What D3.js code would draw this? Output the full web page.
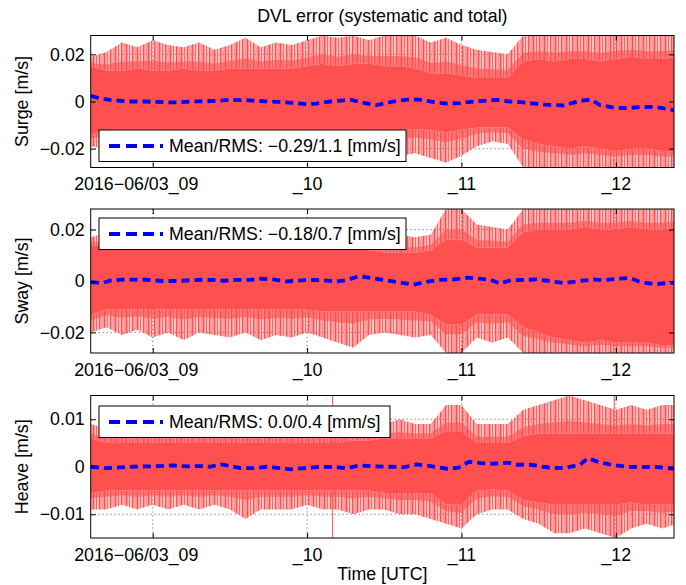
<!DOCTYPE html>
<html>
<head>
<meta charset="utf-8">
<script src="https://cdn.jsdelivr.net/npm/d3@7"></script>
<style>
body { margin: 0; background: #fff; }
text { font-family: "Liberation Sans", Arial, sans-serif; fill: #000; }
</style>
</head>
<body>
<svg id="chart" width="686" height="585"></svg>
<script>
// time axis (hours UTC, 2016-06-03)
const timeRange = [8.598, 12.377];
const tickHours = [9, 10, 11, 12];
const tickLabels = ["2016\u221206/03_09", "_10", "_11", "_12"];

// envelope of the noisy error signal, read every 0.1 h (mm/s)
const hours = [8.6, 8.7, 8.8, 8.9, 9.0, 9.1, 9.2, 9.3, 9.4, 9.5, 9.6, 9.7, 9.8, 9.9, 10.0, 10.1, 10.2, 10.3, 10.4, 10.5,
  10.6, 10.7, 10.8, 10.9, 11.0, 11.1, 11.2, 11.3, 11.4, 11.5, 11.6, 11.7, 11.8, 11.9, 12.0, 12.1, 12.2, 12.3, 12.4];

const surgePeakHi = [19, 21, 25, 23, 26, 24, 23, 25, 22, 24, 27, 23, 25, 24, 26, 28, 27, 28, 26, 28,
  28, 28, 25, 27, 24, 22, 21, 20, 28, 28, 28, 28, 28, 28, 28, 28, 28, 28, 28];
const surgeCoreHi = [15, 13, 13, 14, 13, 13, 14, 13, 13, 14, 14, 14, 14, 14, 15, 16, 15, 16, 16, 15,
  15, 14, 12, 12, 11, 10, 10, 10, 17, 18, 17, 18, 18, 17, 18, 19, 18, 18, 19];
const surgeCoreLo = [-14, -12, -12, -12, -12, -12, -12, -12, -12, -12, -12, -12, -12, -12, -12, -12, -12, -12, -12, -12,
  -12, -12, -12, -13, -12, -11, -11, -11, -16, -18, -19, -20, -19, -20, -21, -20, -20, -21, -21];
const surgePeakLo = [-19, -20, -24, -22, -24, -22, -25, -23, -22, -24, -22, -23, -22, -24, -23, -22, -24, -23, -22, -24,
  -23, -22, -24, -26, -23, -19, -17, -18, -28, -28, -28, -28, -28, -28, -28, -28, -28, -28, -28];

const swayPeakHi = [17, 19, 20, 19, 20, 20, 21, 20, 19, 20, 21, 20, 20, 21, 20, 22, 20, 24, 21, 18,
  18, 17, 18, 28, 28, 22, 21, 20, 28, 28, 28, 28, 28, 28, 28, 28, 28, 28, 28];
const swayCoreHi = [14, 13, 13, 13, 13, 13, 13, 13, 13, 13, 13, 13, 13, 13, 13, 13, 13, 13, 12, 11,
  11, 11, 12, 16, 16, 13, 13, 13, 19, 20, 20, 20, 21, 20, 20, 21, 20, 20, 21];
const swayCoreLo = [-13, -11, -11, -11, -11, -11, -11, -11, -11, -11, -11, -11, -11, -11, -11, -12, -12, -12, -12, -12,
  -12, -12, -13, -17, -17, -13, -13, -13, -18, -20, -22, -23, -24, -23, -24, -24, -24, -25, -25];
const swayPeakLo = [-20, -18, -21, -19, -22, -20, -23, -20, -21, -22, -20, -23, -21, -22, -20, -22, -24, -26, -21, -20,
  -21, -22, -21, -28, -28, -22, -24, -22, -28, -28, -28, -28, -28, -28, -28, -28, -28, -28, -28];

const heavePeakHi = [9, 8, 8, 8, 8, 8, 8, 8, 8, 8, 8, 8, 8, 8, 8, 8, 8, 9, 9, 9,
  10, 9, 9, 13, 13, 9, 9, 9, 12, 13, 14, 15, 14, 13, 12, 13, 12, 13, 13];
const heaveCoreHi = [6, 5, 5, 5, 5, 5, 5, 5, 5, 5, 5, 5, 5, 5, 5, 5, 5, 5.5, 5.5, 6,
  6, 6, 6, 7.5, 7.5, 5, 5, 5, 6.5, 7, 7, 7, 7, 7, 7, 7, 7, 7, 7];
const heaveCoreLo = [-5.5, -5, -5, -5, -5, -5, -5, -5, -5, -5, -5, -5, -5, -5, -5, -5, -5, -5, -5, -5.5,
  -5.5, -5.5, -5.5, -8, -8, -5, -4.8, -5, -7, -7.5, -8, -8, -8, -8, -8, -7.5, -8, -8, -8];
const heavePeakLo = [-9, -9, -8, -9, -8, -9, -8, -9, -8, -9, -11, -9, -9, -9, -8, -9, -9, -10, -9, -9,
  -10, -10, -11, -12, -13, -10, -9, -9, -11, -12, -14, -14, -13, -14, -15, -13, -12, -13, -12];

// single outliers that run off both ends of the axis
const surgeSpikeT = [11.99];
const swaySpikeT = [11.99];
const heaveSpikeT = [10.165, 11.99];

// systematic part (running mean, mm/s)
const surgeMeanT = [8.60, 8.66, 8.72, 8.79, 8.85, 8.94, 9.03, 9.11, 9.18, 9.26, 9.35, 9.42, 9.50, 9.59, 9.65, 9.72,
  9.83, 9.91, 10.00, 10.06, 10.15, 10.22, 10.28, 10.34, 10.41, 10.45, 10.56, 10.65, 10.73, 10.82, 10.91, 10.99,
  11.08, 11.17, 11.23, 11.30, 11.38, 11.47, 11.56, 11.66, 11.77, 11.84, 11.90, 11.99, 12.07, 12.16, 12.25, 12.38];
const surgeMean = [2.4, 1.3, 0.7, 0.3, 0.0, 0.0, -0.2, -0.4, -0.3, 0.0, 0.1, 0.3, 0.7, 0.6, 0.4, 0.1,
  -0.2, -0.6, -1.1, -0.9, 0.0, 0.4, 0.8, -0.2, -1.1, -1.5, 0.0, 0.8, 0.8, -0.3, -0.9, -0.7,
  0.0, 0.4, 0.7, 0.1, -0.3, -0.9, -1.4, -1.7, 0.3, 0.8, -1.6, -2.6, -2.8, -2.4, -2.3, -3.7];

const swayMeanT = [8.60, 8.67, 8.73, 8.80, 8.86, 8.93, 8.99, 9.07, 9.16, 9.24, 9.33, 9.39, 9.46, 9.54, 9.63, 9.70,
  9.78, 9.87, 9.93, 10.02, 10.10, 10.19, 10.26, 10.34, 10.41, 10.47, 10.60, 10.69, 10.78, 10.86, 10.95, 11.04,
  11.12, 11.19, 11.25, 11.32, 11.40, 11.49, 11.56, 11.66, 11.77, 11.86, 11.92, 12.01, 12.09, 12.16, 12.25, 12.38];
const swayMean = [-0.4, -0.8, 0.2, 0.5, 0.5, 0.6, 0.3, 0.0, 0.0, 0.3, 0.5, 0.4, 0.1, 0.4, 0.4, 0.9,
  0.6, -0.2, 0.1, 0.4, 0.3, -0.2, 0.4, 1.9, 1.2, 0.6, -0.6, -1.4, -0.2, 0.4, 0.6, 1.3,
  0.9, 0.4, -1.0, 0.3, 0.4, 0.6, 0.1, -0.8, 0.0, 0.6, 0.3, 0.9, 1.2, -0.4, -1.2, -0.6];

const heaveMeanT = [8.60, 8.70, 8.79, 8.87, 8.96, 9.05, 9.13, 9.22, 9.31, 9.37, 9.44, 9.48, 9.57, 9.65, 9.74, 9.83,
  9.89, 9.98, 10.08, 10.17, 10.26, 10.34, 10.43, 10.52, 10.63, 10.71, 10.80, 10.91, 10.98, 11.05, 11.13, 11.21,
  11.30, 11.36, 11.45, 11.53, 11.60, 11.68, 11.77, 11.82, 11.90, 11.99, 12.07, 12.16, 12.25, 12.38];
const heaveMean = [0.0, -0.3, -0.15, 0.0, 0.07, 0.14, 0.28, 0.07, 0.14, 0.0, 0.49, 0.28, -0.3, -0.3, 0.0, -0.3,
  -0.56, -0.3, 0.0, -0.07, -0.3, 0.28, 0.07, 0.0, -0.07, 0.49, 0.14, -0.42, -0.21, 1.05, 0.77, 0.63,
  0.84, 0.42, 0.42, 0.0, -0.28, -0.21, 0.49, 1.82, 0.84, 0.35, 0.0, -0.07, 0.0, -0.42];

const axisNames = ["Surge [m/s]", "Sway [m/s]", "Heave [m/s]"];
const legendLabels = [
  "Mean/RMS: \u22120.29/1.1 [mm/s]",
  "Mean/RMS: \u22120.18/0.7 [mm/s]",
  "Mean/RMS: 0.0/0.4 [mm/s]"
];

const fontSize = "17.8px";
const red = "#ff5050";

const svg = d3.select("#chart");

// uneven vertical hatching so the outer band reads as dense spikes
const defs = svg.append("defs");
const pat = defs.append("pattern")
  .attr("id", "spikes")
  .attr("patternUnits", "userSpaceOnUse")
  .attr("width", 11).attr("height", 40);
pat.append("rect").attr("width", 11).attr("height", 40).attr("fill", red).attr("opacity", 0.35);
pat.append("rect").attr("x", 0).attr("width", 1.4).attr("height", 40).attr("fill", red);
pat.append("rect").attr("x", 2.7).attr("width", 0.8).attr("height", 40).attr("fill", red).attr("opacity", 0.7);
pat.append("rect").attr("x", 4.6).attr("width", 1.8).attr("height", 40).attr("fill", red);
pat.append("rect").attr("x", 8.0).attr("width", 1.0).attr("height", 40).attr("fill", red).attr("opacity", 0.8);

const x = d3.scaleLinear().domain(timeRange).range([90.7, 674]);

const panels = [
  { name: axisNames[0], top: 35.5, bottom: 167.5, lim: 28, ticks: [-20, 0, 20],
    peakHi: surgePeakHi, coreHi: surgeCoreHi, coreLo: surgeCoreLo, peakLo: surgePeakLo,
    meanT: surgeMeanT, mean: surgeMean, spikes: surgeSpikeT, spikeOp: 0.5,
    legend: legendLabels[0], legTop: 130, legW: 307 },
  { name: axisNames[1], top: 209, bottom: 353, lim: 28, ticks: [-20, 0, 20],
    peakHi: swayPeakHi, coreHi: swayCoreHi, coreLo: swayCoreLo, peakLo: swayPeakLo,
    meanT: swayMeanT, mean: swayMean, spikes: swaySpikeT, spikeOp: 0.5,
    legend: legendLabels[1], legTop: 218, legW: 307 },
  { name: axisNames[2], top: 395.5, bottom: 538, lim: 15, ticks: [-10, 0, 10],
    peakHi: heavePeakHi, coreHi: heaveCoreHi, coreLo: heaveCoreLo, peakLo: heavePeakLo,
    meanT: heaveMeanT, mean: heaveMean, spikes: heaveSpikeT, spikeOp: 0.85,
    legend: legendLabels[2], legTop: 406, legW: 291 }
];

const fmt = (v) => v === 0 ? "0" : d3.format(".2f")(v / 1000).replace("-", "\u2212");

// title
svg.append("text")
  .attr("x", (x.range()[0] + x.range()[1]) / 2)
  .attr("y", 22)
  .attr("text-anchor", "middle")
  .style("font-size", fontSize)
  .text("DVL error (systematic and total)");

panels.forEach((p, k) => {
  const y = d3.scaleLinear().domain([-p.lim, p.lim]).range([p.bottom, p.top]);
  const g = svg.append("g");
  const idx = d3.range(hours.length);

  g.append("clipPath").attr("id", "clip" + k)
    .append("rect")
    .attr("x", x.range()[0]).attr("y", p.top)
    .attr("width", x.range()[1] - x.range()[0])
    .attr("height", p.bottom - p.top);

  // dotted grid
  const grid = g.append("g")
    .attr("stroke", "#333")
    .attr("stroke-width", 0.8)
    .attr("stroke-dasharray", "1,3");
  tickHours.forEach((t) => {
    grid.append("line")
      .attr("x1", x(t)).attr("x2", x(t))
      .attr("y1", p.top).attr("y2", p.bottom);
  });
  p.ticks.forEach((v) => {
    grid.append("line")
      .attr("x1", x.range()[0]).attr("x2", x.range()[1])
      .attr("y1", y(v)).attr("y2", y(v));
  });

  const data = g.append("g").attr("clip-path", "url(#clip" + k + ")");

  // outer spikes: hatched out to the peaks, denser near the core
  const outerHi = d3.area()
    .x((i) => x(hours[i]))
    .y0((i) => y(p.coreHi[i]))
    .y1((i) => y(p.peakHi[i]));
  const outerLo = d3.area()
    .x((i) => x(hours[i]))
    .y0((i) => y(p.coreLo[i]))
    .y1((i) => y(p.peakLo[i]));
  const midHi = d3.area()
    .x((i) => x(hours[i]))
    .y0((i) => y(p.coreHi[i]))
    .y1((i) => y((2 * p.coreHi[i] + p.peakHi[i]) / 3));
  const midLo = d3.area()
    .x((i) => x(hours[i]))
    .y0((i) => y(p.coreLo[i]))
    .y1((i) => y((2 * p.coreLo[i] + p.peakLo[i]) / 3));

  data.append("path").attr("d", outerHi(idx)).attr("fill", "url(#spikes)");
  data.append("path").attr("d", outerLo(idx)).attr("fill", "url(#spikes)");
  data.append("path").attr("d", midHi(idx)).attr("fill", red).attr("opacity", 0.6);
  data.append("path").attr("d", midLo(idx)).attr("fill", red).attr("opacity", 0.6);

  data.selectAll("line.spike")
    .data(p.spikes)
    .enter()
    .append("line")
    .attr("class", "spike")
    .attr("x1", (t) => x(t)).attr("x2", (t) => x(t))
    .attr("y1", y(-p.lim)).attr("y2", y(p.lim))
    .attr("stroke", red)
    .attr("stroke-width", 1.2)
    .attr("opacity", p.spikeOp);

  const core = d3.area()
    .x((i) => x(hours[i]))
    .y0((i) => y(p.coreLo[i]))
    .y1((i) => y(p.coreHi[i]));
  data.append("path").attr("d", core(idx)).attr("fill", red);

  // mean line
  const line = d3.line()
    .x((i) => x(p.meanT[i]))
    .y((i) => y(p.mean[i]));
  data.append("path")
    .attr("d", line(d3.range(p.meanT.length)))
    .attr("fill", "none")
    .attr("stroke", "#0000ff")
    .attr("stroke-width", 3.8)
    .attr("stroke-dasharray", "8,5");

  // axes: ticks inside, labels outside
  g.append("g")
    .attr("transform", "translate(" + x.range()[0] + ",0)")
    .call(d3.axisLeft(y).tickValues(p.ticks).tickFormat(fmt)
      .tickSizeInner(-5).tickSizeOuter(0).tickPadding(6));
  g.append("g")
    .attr("transform", "translate(" + x.range()[1] + ",0)")
    .call(d3.axisRight(y).tickValues(p.ticks).tickFormat("")
      .tickSizeInner(-5).tickSizeOuter(0));
  const xb = g.append("g")
    .attr("transform", "translate(0," + p.bottom + ")")
    .call(d3.axisBottom(x).tickValues(tickHours)
      .tickFormat((d, i) => tickLabels[i])
      .tickSizeInner(-5).tickSizeOuter(0).tickPadding(10));
  xb.selectAll(".tick text").filter((d, i) => i === 0).attr("dx", -17);
  g.append("g")
    .attr("transform", "translate(0," + p.top + ")")
    .call(d3.axisTop(x).tickValues(tickHours).tickFormat("")
      .tickSizeInner(-5).tickSizeOuter(0));

  g.selectAll(".domain").remove();
  g.selectAll(".tick line").attr("stroke", "#000");
  g.selectAll(".tick text").style("font-size", fontSize).attr("font-family", null);

  g.append("rect")
    .attr("x", x.range()[0]).attr("y", p.top)
    .attr("width", x.range()[1] - x.range()[0])
    .attr("height", p.bottom - p.top)
    .attr("fill", "none")
    .attr("stroke", "#000")
    .attr("stroke-width", 1);

  // y label
  g.append("text")
    .attr("transform", "translate(28," + (p.top + p.bottom) / 2 + ") rotate(-90)")
    .attr("text-anchor", "middle")
    .style("font-size", fontSize)
    .text(p.name);

  // legend
  const leg = g.append("g").attr("transform", "translate(99," + p.legTop + ")");
  leg.append("rect")
    .attr("width", p.legW).attr("height", 31.5)
    .attr("fill", "#fff").attr("stroke", "#000").attr("stroke-width", 1);
  leg.append("line")
    .attr("x1", 10).attr("x2", 64)
    .attr("y1", 16).attr("y2", 16)
    .attr("stroke", "#0000ff")
    .attr("stroke-width", 3.8)
    .attr("stroke-dasharray", "11,6");
  leg.append("text")
    .attr("x", 70).attr("y", 22)
    .style("font-size", fontSize)
    .text(p.legend);
});

svg.append("text")
  .attr("x", (x.range()[0] + x.range()[1]) / 2)
  .attr("y", 580)
  .attr("text-anchor", "middle")
  .style("font-size", fontSize)
  .text("Time [UTC]");
</script>
</body>
</html>
